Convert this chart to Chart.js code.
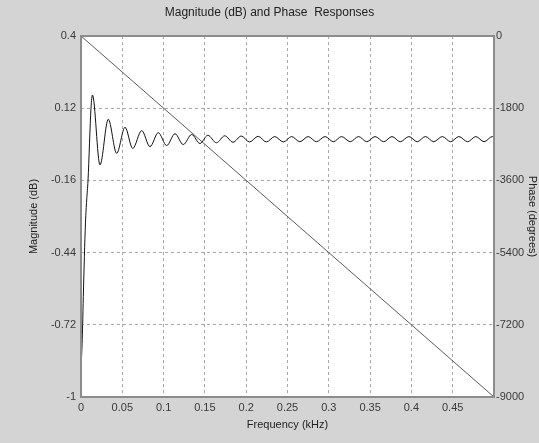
<!DOCTYPE html>
<html>
<head>
<meta charset="utf-8">
<script src="https://cdn.jsdelivr.net/npm/chart.js@4.4.1/dist/chart.umd.min.js"></script>
<style>
	body { margin: 0; background: #d4d4d4; }
	#caja { width: 539px; height: 443px; }
</style>
</head>
<body>
<div id="caja"><canvas id="grafica"></canvas></div>
<script>
// frequency (kHz) / magnitude (dB), peaks and troughs of the ripple
var magFreq = [0, 0.0006, 0.002, 0.0028, 0.0054, 0.0069, 0.0085, 0.0121, 0.0139,
	0.023, 0.033, 0.0432, 0.0533, 0.0626, 0.0735, 0.0835, 0.0936, 0.1037, 0.1138,
	0.1238, 0.134, 0.144, 0.1535, 0.164, 0.174, 0.184, 0.194, 0.204, 0.2145, 0.2245,
	0.2345, 0.245, 0.255, 0.265, 0.275, 0.285, 0.2955, 0.3055, 0.3155, 0.326, 0.336,
	0.346, 0.356, 0.3665, 0.3765, 0.3865, 0.397, 0.407, 0.417, 0.427, 0.4375, 0.4475,
	0.4575, 0.468, 0.478, 0.488, 0.498, 0.5];
var magDb = [-0.87, -0.85, -0.72, -0.61, -0.325, -0.236, -0.16, 0.12, 0.171,
	-0.1, 0.077, -0.055, 0.046, -0.036, 0.033, -0.029, 0.025, -0.025, 0.021,
	-0.021, 0.018, -0.017, 0.015, -0.014, 0.013, -0.012, 0.012, -0.011, 0.011, -0.011,
	0.01, -0.011, 0.01, -0.01, 0.01, -0.01, 0.01, -0.01, 0.01, -0.01, 0.01,
	-0.01, 0.01, -0.01, 0.01, -0.01, 0.01, -0.01, 0.01, -0.01, 0.01, -0.01,
	0.01, -0.01, 0.01, -0.01, 0.01, 0.009];

// phase is a straight line from corner to corner
var phaseFreq = [0, 0.5];
var phaseDeg = [0, -9000];

var freqTicks = [0, 0.05, 0.1, 0.15, 0.2, 0.25, 0.3, 0.35, 0.4, 0.45, 0.5];
var magTicks = [-1, -0.72, -0.44, -0.16, 0.12, 0.4];
var phaseTicks = [-9000, -7200, -5400, -3600, -1800, 0];

function puntos(xs, ys) {
	var out = [];
	for (var i = 0; i < xs.length; i++) out.push({x: xs[i], y: ys[i]});
	return out;
}
function fijar(lista) {
	return function(scale) {
		scale.ticks = lista.map(function(v) { return {value: v}; });
	};
}

var fuente = {family: "'Liberation Sans', Arial, sans-serif", size: 11};

// grey figure, white axes, box around the axes
var fondo = {
	id: 'fondo',
	beforeDraw: function(chart) {
		var c = chart.ctx, a = chart.chartArea;
		c.save();
		c.fillStyle = '#d4d4d4';
		c.fillRect(0, 0, chart.width, chart.height);
		c.fillStyle = '#ffffff';
		c.fillRect(a.left, a.top, a.right - a.left, a.bottom - a.top);
		c.restore();
	},
	afterDraw: function(chart) {
		var c = chart.ctx, a = chart.chartArea;
		c.save();
		c.strokeStyle = '#8c8c8c';
		c.lineWidth = 2;
		c.strokeRect(a.left, a.top, a.right - a.left, a.bottom - a.top);
		c.restore();
	}
};

var ctx = document.getElementById('grafica');
var grafica = new Chart(ctx, {
	type: 'line',
	data: {
		datasets: [{
			label: 'Magnitude',
			data: puntos(magFreq, magDb),
			yAxisID: 'y',
			borderColor: '#111111',
			borderWidth: 1,
			pointRadius: 0,
			cubicInterpolationMode: 'monotone',
			fill: false
		}, {
			label: 'Phase',
			data: puntos(phaseFreq, phaseDeg),
			yAxisID: 'y2',
			borderColor: '#5a5a5a',
			borderWidth: 1,
			pointRadius: 0,
			fill: false
		}]
	},
	options: {
		responsive: true,
		maintainAspectRatio: false,
		animation: false,
		layout: {padding: 0},
		plugins: {
			legend: {display: false},
			tooltip: {enabled: false},
			title: {
				display: true,
				text: 'Magnitude (dB) and Phase  Responses',
				color: '#222222',
				font: {family: fuente.family, size: 12, weight: 'normal'},
				padding: {top: 5, bottom: 16.6}
			}
		},
		scales: {
			x: {
				type: 'linear',
				min: 0,
				max: 0.5,
				afterBuildTicks: fijar(freqTicks),
				afterFit: function(scale) { scale.height = 46; },
				grid: {color: '#a8a8a8', lineWidth: 1, drawTicks: false},
				border: {display: false, dash: [3, 3]},
				ticks: {
					color: '#3a3a3a', font: fuente, padding: 4, maxRotation: 0,
					callback: function(v) { return v >= 0.5 ? '' : String(v); }
				},
				title: {display: true, text: 'Frequency (kHz)', color: '#222222', font: fuente, padding: {bottom: 11.4}}
			},
			y: {
				position: 'left',
				min: -1,
				max: 0.4,
				afterBuildTicks: fijar(magTicks),
				afterFit: function(scale) { scale.width = 81; },
				grid: {color: '#a8a8a8', lineWidth: 1, drawTicks: false},
				border: {display: false, dash: [3, 3]},
				ticks: {color: '#3a3a3a', font: fuente, padding: 5,
					callback: function(v) { return String(Math.round(v * 100) / 100); }},
				title: {display: true, text: 'Magnitude (dB)', color: '#222222', font: fuente, padding: {top: 27}}
			},
			y2: {
				position: 'right',
				min: -9000,
				max: 0,
				afterBuildTicks: fijar(phaseTicks),
				afterFit: function(scale) { scale.width = 45; },
				grid: {display: false, drawTicks: false},
				border: {display: false},
				ticks: {color: '#3a3a3a', font: fuente, padding: 2,
					callback: function(v) { return String(v); }},
				title: {display: true, text: 'Phase (degrees)', color: '#222222', font: fuente, padding: {top: 0.5}}
			}
		}
	},
	plugins: [fondo]
});
</script>
</body>
</html>
